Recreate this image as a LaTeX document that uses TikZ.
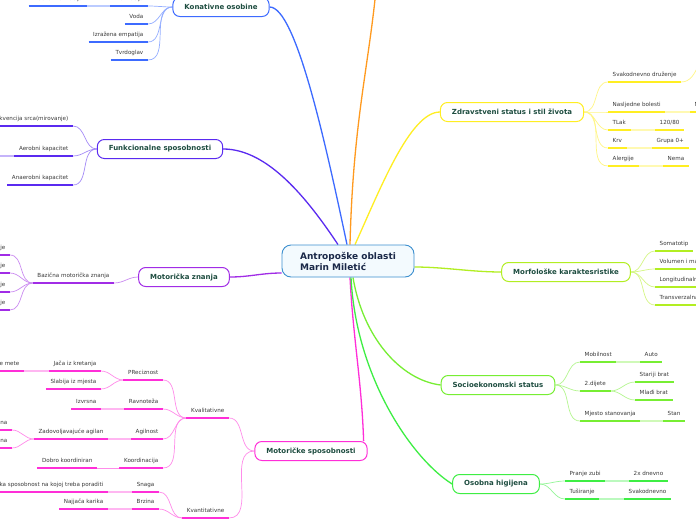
\documentclass[tikz,border=0pt]{standalone}
\usepackage{fontspec}
\setmainfont{DejaVu Sans}
\usetikzlibrary{backgrounds}
\definecolor{cKon}{HTML}{3D6BFF}
\definecolor{cOr}{HTML}{FF9A1F}
\definecolor{cFun}{HTML}{5A2AF0}
\definecolor{cMz}{HTML}{A12CE6}
\definecolor{cMs}{HTML}{FF2ED8}
\definecolor{cZd}{HTML}{FFEE22}
\definecolor{cMo}{HTML}{B2EE22}
\definecolor{cSo}{HTML}{77EE33}
\definecolor{cOh}{HTML}{3EEE44}
\definecolor{titlecol}{HTML}{1E4D40}
\definecolor{ctrtext}{HTML}{1A2848}
\definecolor{leafcol}{HTML}{3A3A3A}
\definecolor{cCtr}{HTML}{3C8FCF}
\definecolor{cCtrF}{HTML}{F3FAFE}
\tikzset{
  leaf/.style={inner xsep=4.5pt, inner ysep=3.8pt, font=\fontsize{5.6}{6.5}\selectfont,
    text=leafcol, text height=4.2pt, text depth=1.2pt},
  ul/.style={line width=1.6pt, draw=#1},
  conn/.style={line width=0.7pt, draw=#1!55},
  lconn/.style={line width=1.6pt, draw=#1!35},
  trunk/.style={line width=1.3pt, draw=#1},
  box/.style={draw=#1, line width=1pt, rounded corners=7pt, fill=white,
    font=\bfseries\fontsize{7}{8}\selectfont, text=titlecol, inner xsep=11.5pt,
    inner ysep=0pt, minimum height=19pt},
  ctrbox/.style={draw=cCtr, fill=cCtrF, line width=0.9pt, rounded corners=9pt,
    font=\bfseries\fontsize{9}{11}\selectfont, text=ctrtext, align=left,
    inner xsep=18pt, minimum height=32pt, minimum width=132pt}
}
% right-side leaf: colour, name, left x, underline y, text
\newcommand\lfR[5]{\node[leaf,anchor=south west] (#2) at (#3,#4) {#5};
  \draw[ul=#1] (#2.south west) -- (#2.south east);}
% left-side leaf: colour, name, right x, underline y, text
\newcommand\lfL[5]{\node[leaf,anchor=south east] (#2) at (#3,#4) {#5};
  \draw[ul=#1] (#2.south west) -- (#2.south east);}
\begin{document}
\begin{tikzpicture}[x=1pt,y=-1pt]
\path[use as bounding box] (0,0) rectangle (696,520);
% main nodes
\node[ctrbox] (ctr) at (348,261) {Antropoške oblasti\\Marin Miletić};
\node[box=cKon] (kon) at (221,7) {Konativne osobine};
\node[box=cFun] (fun) at (160,149) {Funkcionalne sposobnosti};
\node[box=cMz] (mz) at (184,277) {Motorička znanja};
\node[box=cMs] (msp) at (311,451) {Motoričke sposobnosti};
\node[box=cZd] (zd) at (512,112) {Zdravstveni status i stil života};
\node[box=cMo] (mo) at (566,272) {Morfološke karaktesristike};
\node[box=cSo] (so) at (498,385) {Socioekonomski status};
\node[box=cOh] (oh) at (496,484) {Osobna higijena};
% Konativne osobine
\lfL{cKon}{kmot}{148}{6}{Motivacija}
\lfL{cKon}{kvis}{87}{6}{Visoka motivacija}
\lfL{cKon}{kvod}{148}{24}{Voda}
\lfL{cKon}{kemp}{148}{42}{Izražena empatija}
\lfL{cKon}{ktvr}{148}{60}{Tvrdoglav}
% Funkcionalne sposobnosti
\lfL{cFun}{ffre}{73}{126}{Frekvencija srca(mirovanje)}
\lfL{cFun}{faer}{73}{156}{Aerobni kapacitet}
\lfL{cFun}{fana}{73}{185}{Anaerobni kapacitet}
% Motoricka znanja
\lfL{cMz}{mbaz}{114}{283}{Bazična motorička znanja}
\lfL{cMz}{mja}{10}{255}{je}
\lfL{cMz}{mjb}{10}{273}{je}
\lfL{cMz}{mjc}{10}{292}{je}
\lfL{cMz}{mjd}{10}{310}{je}
% Motoricke sposobnosti
\lfL{cMs}{mkval}{229}{418}{Kvalitativne}
\lfL{cMs}{mkvan}{229}{518}{Kvantitativne}
\lfL{cMs}{mpre}{163}{380}{PReciznost}
\lfL{cMs}{mrav}{163}{409}{Ravnoteža}
\lfL{cMs}{magi}{163}{439}{Agilnost}
\lfL{cMs}{mkoo}{163}{468}{Koordinacija}
\lfL{cMs}{mjac}{101}{371}{Jača iz kretanja}
\lfL{cMs}{mmet}{24}{371}{e mete}
\lfL{cMs}{mslab}{101}{389}{Slabija iz mjesta}
\lfL{cMs}{mizv}{101}{409}{Izvrsna}
\lfL{cMs}{mzad}{108}{439}{Zadovoljavajuće agilan}
\lfL{cMs}{mnaa}{12}{430}{na}
\lfL{cMs}{mnab}{12}{448}{na}
\lfL{cMs}{mdob}{97}{468}{Dobro koordiniran}
\lfL{cMs}{msna}{159}{492}{Snaga}
\lfL{cMs}{mspo}{108}{492}{ka sposobnost na kojoj treba poraditi}
\lfL{cMs}{mbrz}{159}{509}{Brzina}
\lfL{cMs}{mnaj}{108}{509}{Najjača karika}
% Zdravstveni status
\lfR{cZd}{zsva}{608}{82}{Svakodnevno druženje}
\lfR{cZd}{znas}{608}{112}{Nasljedne bolesti}
\lfR{cZd}{znn}{690}{112}{Nema}
\lfR{cZd}{ztl}{608}{130}{TLak}
\lfR{cZd}{ztlv}{655}{130}{120/80}
\lfR{cZd}{zkrv}{608}{148}{Krv}
\lfR{cZd}{zgr}{652}{148}{Grupa 0+}
\lfR{cZd}{zal}{608}{166}{Alergije}
\lfR{cZd}{znem}{663}{166}{Nema}
% Morfoloske
\lfR{cMo}{msom}{655}{251}{Somatotip}
\lfR{cMo}{mvol}{655}{269}{Volumen i masa tijela}
\lfR{cMo}{mlon}{655}{287}{Longitudinalna dimenzionalnost}
\lfR{cMo}{mtra}{655}{305}{Transverzalna dimenzionalnost}
% Socioekonomski
\lfR{cSo}{smob}{580}{362}{Mobilnost}
\lfR{cSo}{saut}{640}{362}{Auto}
\lfR{cSo}{sdij}{580}{391}{2.dijete}
\lfR{cSo}{ssta}{635}{382}{Stariji brat}
\lfR{cSo}{smla}{635}{400}{Mlađi brat}
\lfR{cSo}{smje}{580}{421}{Mjesto stanovanja}
\lfR{cSo}{sstan}{663}{421}{Stan}
% Osobna higijena
\lfR{cOh}{opra}{565}{481}{Pranje zubi}
\lfR{cOh}{odva}{629}{481}{2x dnevno}
\lfR{cOh}{otus}{565}{499}{Tuširanje}
\lfR{cOh}{osva}{624}{499}{Svakodnevno}
\begin{pgfonlayer}{background}
\fill[white] (0,0) rectangle (696,520);
\coordinate (orgE) at (376,-10);
\coordinate (faerC) at (-15,156);
\coordinate (zsvaC) at (716,48);
% trunks
\draw[trunk=cOr] ([xshift=2pt]ctr.north) .. controls +(3,-120) and +(-8,80) .. (orgE);
\draw[trunk=cKon] ([xshift=-1pt]ctr.north) .. controls +(-22,-104) and +(26,0) .. (kon.east);
\draw[trunk=cFun] ([xshift=-10pt]ctr.north) .. controls +(-30,-45) and +(45,0) .. (fun.east);
\draw[trunk=cZd] ([xshift=7pt]ctr.north) .. controls +(25,-55) and +(-30,0) .. (zd.west);
\draw[trunk=cMz] ([yshift=-12pt]ctr.west) .. controls +(-20,0) and +(20,0) .. (mz.east);
\draw[trunk=cMo] ([yshift=-6pt]ctr.east) .. controls +(30,0) and +(-30,0) .. (mo.west);
\draw[trunk=cMs] ([xshift=2pt]ctr.south) .. controls +(3,60) and +(-2,-60) .. ([xshift=-4pt]msp.north east);
\draw[trunk=cSo] ([xshift=5pt]ctr.south) .. controls +(10,60) and +(-40,-5) .. (so.west);
\draw[trunk=cOh] ([xshift=3pt]ctr.south) .. controls +(5,100) and +(-40,-25) .. (oh.west);
% Konativne
\foreach \n in {kmot,kvod,kemp,ktvr} \draw[conn=cKon] (kon.west) to[out=180,in=0] (\n.south east);
\draw[lconn=cKon] (kmot.south west) -- (kvis.south east);
% Funkcionalne
\foreach \n in {ffre,faer,fana} \draw[conn=cFun] (fun.west) to[out=180,in=0] (\n.south east);
\draw[lconn=cFun] (faer.south west) -- (faerC);
% Motoricka znanja
\draw[conn=cMz] (mz.west) to[out=180,in=0] (mbaz.south east);
\foreach \n in {mja,mjb,mjc,mjd} \draw[conn=cMz] (mbaz.south west) to[out=180,in=0] (\n.south east);
% Motoricke sposobnosti
\foreach \n in {mkval,mkvan} \draw[conn=cMs] (msp.west) to[out=180,in=0] (\n.south east);
\foreach \n in {mpre,mrav,magi,mkoo} \draw[conn=cMs] (mkval.south west) to[out=180,in=0] (\n.south east);
\foreach \n in {mjac,mslab} \draw[conn=cMs] (mpre.south west) to[out=180,in=0] (\n.south east);
\draw[lconn=cMs] (mjac.south west) -- (mmet.south east);
\draw[lconn=cMs] (mrav.south west) -- (mizv.south east);
\draw[lconn=cMs] (magi.south west) -- (mzad.south east);
\foreach \n in {mnaa,mnab} \draw[conn=cMs] (mzad.south west) to[out=180,in=0] (\n.south east);
\draw[conn=cMs] (mkoo.south west) -- (mdob.south east);
\foreach \n in {msna,mbrz} \draw[conn=cMs] (mkvan.south west) to[out=180,in=0] (\n.south east);
\draw[lconn=cMs] (msna.south west) -- (mspo.south east);
\draw[lconn=cMs] (mbrz.south west) -- (mnaj.south east);
% Zdravstveni
\foreach \n in {zsva,znas,ztl,zkrv,zal} \draw[conn=cZd] (zd.east) to[out=0,in=180] (\n.south west);
\draw[conn=cZd] (zsva.south east) to[out=0,in=180] (zsvaC);
\draw[lconn=cZd] (znas.south east) -- (znn.south west);
\draw[lconn=cZd] (ztl.south east) -- (ztlv.south west);
\draw[lconn=cZd] (zkrv.south east) -- (zgr.south west);
\draw[lconn=cZd] (zal.south east) -- (znem.south west);
% Morfoloske
\foreach \n in {msom,mvol,mlon,mtra} \draw[conn=cMo] (mo.east) to[out=0,in=180] (\n.south west);
% Socioekonomski
\foreach \n in {smob,sdij,smje} \draw[conn=cSo] (so.east) to[out=0,in=180] (\n.south west);
\foreach \n in {ssta,smla} \draw[conn=cSo] (sdij.south east) to[out=0,in=180] (\n.south west);
\draw[lconn=cSo] (smob.south east) -- (saut.south west);
\draw[lconn=cSo] (smje.south east) -- (sstan.south west);
% Osobna higijena
\foreach \n in {opra,otus} \draw[conn=cOh] (oh.east) to[out=0,in=180] (\n.south west);
\draw[lconn=cOh] (opra.south east) -- (odva.south west);
\draw[lconn=cOh] (otus.south east) -- (osva.south west);
\end{pgfonlayer}
\end{tikzpicture}
\end{document}
